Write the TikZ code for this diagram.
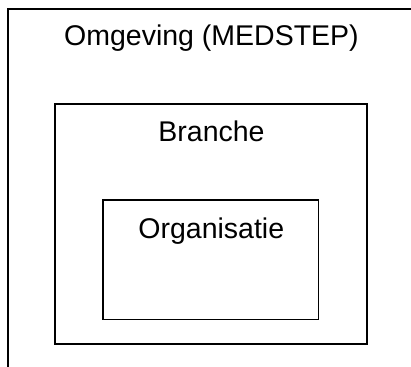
\documentclass[tikz,border=0pt]{standalone}
\usepackage{fontspec}
\setmainfont{Liberation Sans}

\begin{document}
\begin{tikzpicture}[x=1bp,y=1bp,
	box/.style={draw,line width=1.6bp,inner sep=0pt,outer sep=0pt,anchor=north west},
	lbl/.style={anchor=base,inner sep=0pt,font=\fontsize{28.5bp}{34bp}\selectfont}]
		\useasboundingbox (0,0) rectangle (411,-367);
		\clip (0,0) rectangle (411,-367);
		%omgeving
		\node[box,minimum width=430,minimum height=400] (omgeving) at (8,-9) {};
		\node[lbl] (omgevingtxt) at (211.5,-45) {Omgeving (MEDSTEP)};
		%branche
		\node[box,minimum width=313,minimum height=241] (branche) at (55,-104) {};
		\node[lbl] (branchetxt) at (211.5,-141.5) {Branche};
		%organisatie
		\node[box,minimum width=216.5,minimum height=120] (organisatie) at (103,-200) {};
		\node[lbl] (organisatietxt) at (211.3,-238) {Organisatie};
	\end{tikzpicture}
\end{document}
